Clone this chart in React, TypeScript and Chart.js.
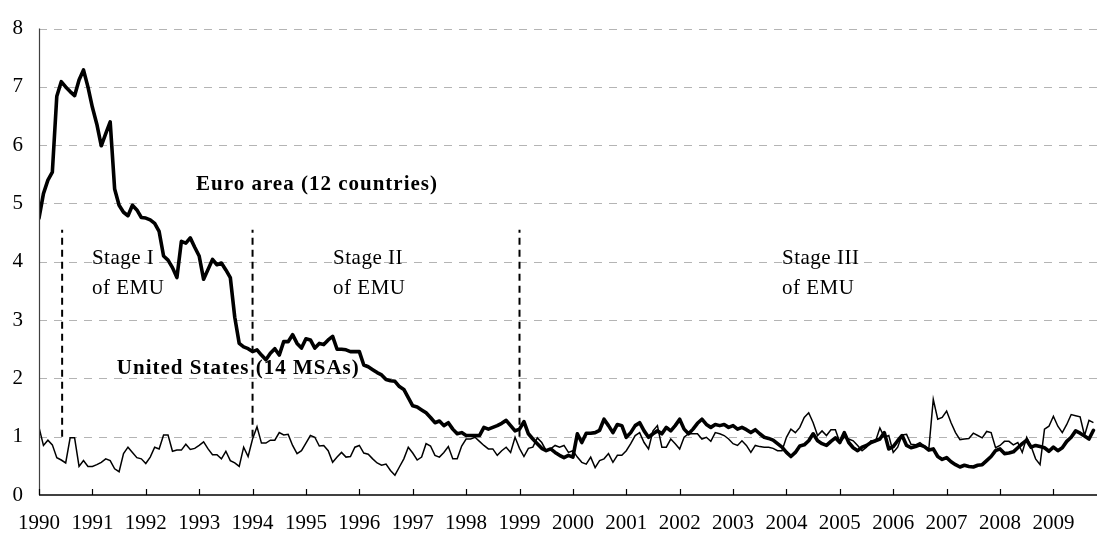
import React, { useEffect, useRef } from 'react';
import { Chart, registerables } from 'chart.js';

Chart.register(...registerables);

// Year labels (one tick every 12 months, starting January 1990)
const years = [
  '1990', '1991', '1992', '1993', '1994', '1995', '1996', '1997', '1998', '1999',
  '2000', '2001', '2002', '2003', '2004', '2005', '2006', '2007', '2008', '2009',
];

// Monthly values, January 1990 onward
const euroArea = [
  4.75, 5.17, 5.40, 5.54, 6.84, 7.09, 7.00, 6.92, 6.85, 7.12,
  7.29, 7.00, 6.65, 6.36, 5.99, 6.20, 6.40, 5.25, 4.97, 4.85,
  4.79, 4.97, 4.89, 4.76, 4.75, 4.72, 4.66, 4.52, 4.10, 4.03,
  3.90, 3.73, 4.35, 4.32, 4.41, 4.25, 4.10, 3.70, 3.87, 4.04,
  3.95, 3.98, 3.86, 3.73, 3.05, 2.60, 2.54, 2.51,
  2.46, 2.49, 2.40, 2.32, 2.43, 2.51, 2.40, 2.63, 2.63, 2.75,
  2.60, 2.52, 2.68, 2.66, 2.52, 2.60, 2.58, 2.66, 2.72, 2.50,
  2.50, 2.49, 2.46, 2.46, 2.46, 2.23, 2.20, 2.15, 2.10, 2.06,
  1.98, 1.96, 1.95, 1.86, 1.81, 1.67, 1.53, 1.51, 1.46, 1.41,
  1.33, 1.24, 1.27, 1.19, 1.24, 1.13, 1.05, 1.07, 1.02, 1.02,
  1.02, 1.02, 1.16, 1.13, 1.16, 1.19, 1.23, 1.28, 1.19, 1.10,
  1.13, 1.26,
  1.05, 0.96, 0.88, 0.80, 0.76, 0.79, 0.73, 0.68, 0.64, 0.68,
  0.65, 1.05, 0.90, 1.06, 1.06, 1.07, 1.11, 1.30, 1.19, 1.07,
  1.21, 1.19, 0.99, 1.07, 1.19, 1.24, 1.10, 0.99, 1.05, 1.10,
  1.05, 1.16, 1.10, 1.19, 1.30, 1.13, 1.05, 1.13, 1.23, 1.30,
  1.21, 1.16, 1.21, 1.19, 1.21, 1.16, 1.19, 1.13, 1.16, 1.12,
  1.07, 1.12, 1.05, 0.99, 0.97, 0.94, 0.88, 0.82, 0.73, 0.66,
  0.73, 0.84,
  0.86, 0.93, 1.05, 0.93, 0.88, 0.85, 0.92, 0.98, 0.90, 1.07,
  0.90, 0.81, 0.76, 0.82, 0.85, 0.90, 0.93, 0.96, 1.07, 0.79,
  0.83, 0.93, 1.02, 0.85, 0.81, 0.83, 0.86, 0.83, 0.77, 0.79,
  0.66, 0.61, 0.64, 0.57, 0.52, 0.48, 0.51, 0.49, 0.48, 0.51,
  0.52, 0.59, 0.66, 0.76, 0.79, 0.71, 0.72, 0.74, 0.81, 0.88,
  0.94, 0.82, 0.85, 0.83, 0.81, 0.75, 0.82, 0.76, 0.81, 0.92,
  0.99, 1.10, 1.06, 1.01, 0.96, 1.11,
];

const unitedStates = [
  1.16, 0.85, 0.94, 0.86, 0.64, 0.60, 0.55, 0.98, 0.98, 0.49,
  0.59, 0.49, 0.49, 0.52, 0.56, 0.62, 0.59, 0.45, 0.40, 0.71,
  0.82, 0.73, 0.64, 0.62, 0.54, 0.65, 0.82, 0.79, 1.03, 1.03,
  0.75, 0.77, 0.77, 0.87, 0.78, 0.80, 0.85, 0.91, 0.79, 0.69,
  0.69, 0.62, 0.75, 0.59, 0.55, 0.49, 0.82, 0.66,
  0.96, 1.17, 0.89, 0.89, 0.94, 0.94, 1.07, 1.03, 1.04, 0.85,
  0.71, 0.76, 0.89, 1.02, 0.99, 0.84, 0.85, 0.76, 0.56, 0.65,
  0.73, 0.65, 0.66, 0.82, 0.85, 0.72, 0.70, 0.62, 0.55, 0.51,
  0.53, 0.42, 0.34, 0.48, 0.62, 0.82, 0.72, 0.60, 0.65, 0.88,
  0.84, 0.68, 0.65, 0.73, 0.83, 0.62, 0.62, 0.84, 0.96, 0.96,
  0.99, 0.92, 0.85, 0.79, 0.79, 0.68, 0.76, 0.82, 0.73, 0.99,
  0.80, 0.66,
  0.80, 0.82, 0.98, 0.90, 0.76, 0.79, 0.85, 0.82, 0.85, 0.73,
  0.76, 0.65, 0.56, 0.53, 0.65, 0.47, 0.59, 0.62, 0.71, 0.56,
  0.68, 0.68, 0.76, 0.88, 1.02, 1.07, 0.90, 0.79, 1.10, 1.19,
  0.82, 0.82, 0.96, 0.88, 0.79, 0.99, 1.05, 1.05, 1.05, 0.96,
  0.99, 0.92, 1.07, 1.05, 1.02, 0.96, 0.88, 0.85, 0.93, 0.85,
  0.73, 0.85, 0.83, 0.82, 0.82, 0.80, 0.76, 0.76, 0.99, 1.13,
  1.07, 1.16,
  1.33, 1.41, 1.24, 1.02, 1.10, 1.02, 1.12, 1.12, 0.90, 0.99,
  0.96, 0.93, 0.85, 0.76, 0.82, 0.93, 0.92, 1.15, 0.99, 1.02,
  0.73, 0.82, 1.03, 1.04, 0.87, 0.86, 0.90, 0.84, 0.79, 1.64,
  1.30, 1.33, 1.44, 1.24, 1.07, 0.95, 0.96, 0.97, 1.06, 1.02,
  0.98, 1.09, 1.07, 0.81, 0.85, 0.92, 0.92, 0.86, 0.90, 0.73,
  0.99, 0.83, 0.62, 0.52, 1.13, 1.18, 1.35, 1.18, 1.07, 1.21,
  1.38, 1.36, 1.34, 1.02, 1.28, 1.24,
];

// Stage boundaries (months since January 1990) and the span of the dashed markers
const stageStarts = [5.2, 48, 108];
const markerSpan = [1.0, 4.55];

const SERIF = '"Liberation Serif", "Times New Roman", Times, serif';

const decorPlugin = {
  id: 'decor',
  beforeDatasetsDraw(chart: any) {
    const { ctx, chartArea, scales } = chart;
    const y = scales.y;
    ctx.save();
    ctx.strokeStyle = '#b4b4b4';
    ctx.lineWidth = 1;
    ctx.setLineDash([8, 7]);
    for (const t of y.ticks) {
      if (t.value === 0) continue;
      const py = Math.round(y.getPixelForValue(t.value)) + 0.5;
      ctx.beginPath();
      ctx.moveTo(chartArea.left, py);
      ctx.lineTo(chartArea.right, py);
      ctx.stroke();
    }
    ctx.restore();
  },
  afterDatasetsDraw(chart: any) {
    const { ctx, chartArea, scales } = chart;
    const x = scales.x;
    const y = scales.y;
    ctx.save();
    ctx.setLineDash([]);
    // y axis line
    ctx.strokeStyle = '#404040';
    ctx.lineWidth = 1.2;
    ctx.beginPath();
    ctx.moveTo(chartArea.left + 0.5, chartArea.top);
    ctx.lineTo(chartArea.left + 0.5, chartArea.bottom);
    ctx.stroke();
    // x axis line
    ctx.strokeStyle = '#000';
    ctx.lineWidth = 1.5;
    ctx.beginPath();
    ctx.moveTo(chartArea.left, chartArea.bottom);
    ctx.lineTo(chartArea.right, chartArea.bottom);
    ctx.stroke();
    // inward tick marks at each year
    ctx.lineWidth = 1.2;
    for (const t of x.ticks) {
      const px = Math.round(x.getPixelForValue(t.value)) + 0.5;
      ctx.beginPath();
      ctx.moveTo(px, chartArea.bottom);
      ctx.lineTo(px, chartArea.bottom - 6);
      ctx.stroke();
    }

    // annotations
    ctx.fillStyle = '#000';
    ctx.textBaseline = 'alphabetic';
    ctx.textAlign = 'left';
    ctx.font = `bold 21px ${SERIF}`;
    (ctx as any).letterSpacing = '1px';
    ctx.fillText('Euro area (12 countries)', x.getPixelForValue(35.3), y.getPixelForValue(5.24));
    ctx.fillText('United States (14 MSAs)', x.getPixelForValue(17.5), y.getPixelForValue(2.07));
    (ctx as any).letterSpacing = '0.5px';
    ctx.font = `21px ${SERIF}`;
    const stageLabels = [
      ['Stage I', 11.9],
      ['Stage II', 66.1],
      ['Stage III', 167.0],
    ] as const;
    for (const [label, m] of stageLabels) {
      const px = x.getPixelForValue(m);
      ctx.fillText(label, px, y.getPixelForValue(3.96));
      ctx.fillText('of EMU', px, y.getPixelForValue(3.44));
    }
    ctx.restore();
  },
};

export default function App() {
  const ref = useRef<HTMLCanvasElement>(null);
  useEffect(() => {
    document.body.style.margin = '0';
    const canvas = ref.current!;
    const markerSets = stageStarts.map((m) => ({
      label: 'marker',
      data: [
        { x: m, y: markerSpan[0] },
        { x: m, y: markerSpan[1] },
      ],
      borderColor: '#000',
      borderWidth: 2,
      borderDash: [7, 5],
      pointRadius: 0,
    }));
    const chart = new Chart(canvas, {
      type: 'line',
      data: {
        datasets: [
          {
            label: 'Euro area (12 countries)',
            data: euroArea.map((v, i) => ({ x: i, y: v })),
            borderColor: '#000',
            borderWidth: 3.6,
            pointRadius: 0,
            tension: 0,
            borderJoinStyle: 'round',
            borderCapStyle: 'round',
          },
          {
            label: 'United States (14 MSAs)',
            data: unitedStates.map((v, i) => ({ x: i, y: v })),
            borderColor: '#000',
            borderWidth: 1.5,
            pointRadius: 0,
            tension: 0,
          },
          ...markerSets,
        ] as any,
      },
      options: {
        responsive: false,
        animation: false,
        parsing: true,
        layout: { padding: { top: 23, right: 1, left: 0, bottom: 0 } },
        plugins: {
          legend: { display: false },
          tooltip: { enabled: false },
        },
        scales: {
          x: {
            type: 'linear',
            min: 0,
            max: 237.8,
            grid: { display: false, drawTicks: false },
            border: { display: false },
            afterBuildTicks: (s: any) => {
              s.ticks = years.map((_, i) => ({ value: i * 12 }));
            },
            afterFit: (s: any) => {
              s.height = 41;
            },
            ticks: {
              autoSkip: false,
              maxRotation: 0,
              padding: 16,
              color: '#000',
              font: { family: SERIF, size: 21 },
              callback: (_v: any, i: number) => years[i],
            },
          },
          y: {
            min: 0,
            max: 8,
            grid: { display: false, drawTicks: false },
            border: { display: false },
            afterFit: (s: any) => {
              s.width = 39;
            },
            ticks: {
              stepSize: 1,
              padding: 16,
              color: '#000',
              font: { family: SERIF, size: 21 },
            },
          },
        },
      },
      plugins: [decorPlugin],
    });
    return () => chart.destroy();
  }, []);
  return (
    <div style={{ width: 1098, height: 536 }}>
      <canvas ref={ref} width={1098} height={536} />
    </div>
  );
}
